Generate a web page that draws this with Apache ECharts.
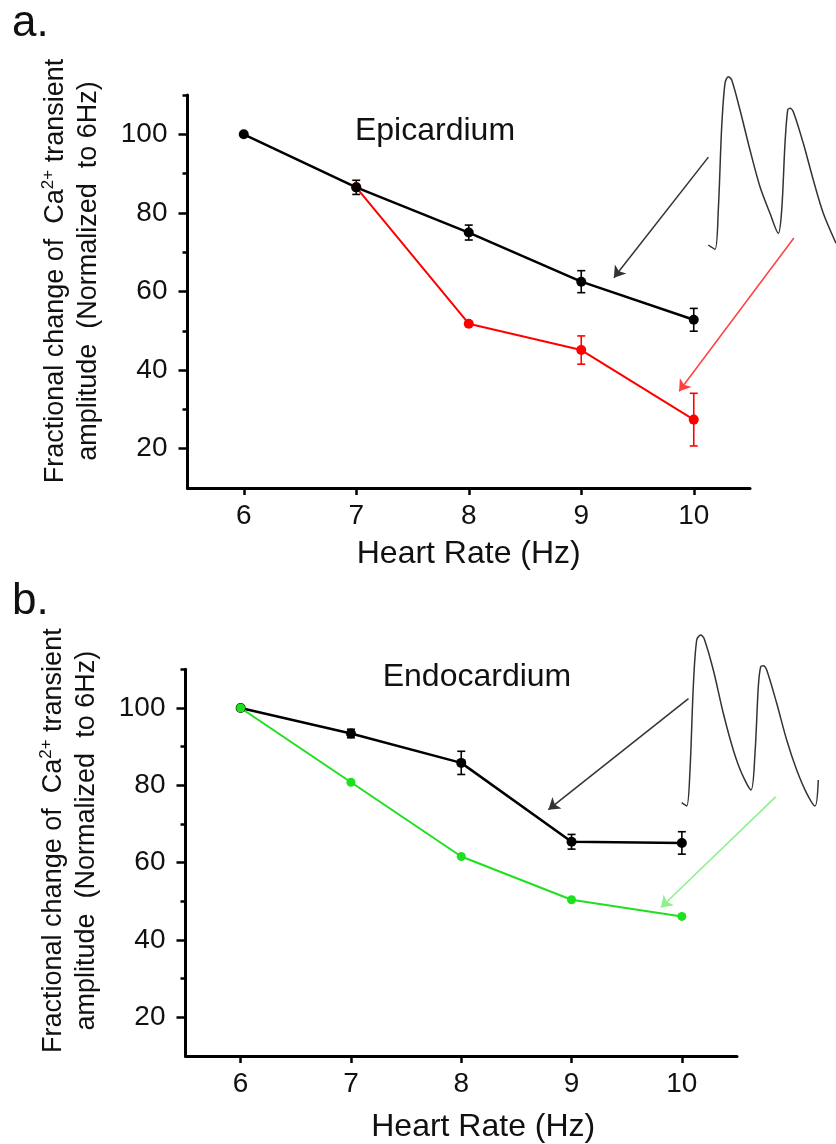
<!DOCTYPE html>
<html><head><meta charset="utf-8">
<script src="https://cdn.jsdelivr.net/npm/echarts@6/dist/echarts.min.js"></script>
<style>html,body{margin:0;padding:0;background:#fff}#c{width:836px;height:1144px}</style>
</head><body><div id="c"></div>
<script>
// ---------- data ----------
const heartRate = [6, 7, 8, 9, 10];
const xTicks = [6, 7, 8, 9, 10];
const yTicks = [20, 40, 60, 80, 100];
const yMinorTicks = [30, 50, 70, 90, 110];

// Panel a: Epicardium
const epiBlack = [100, 86.5, 75.0, 62.5, 52.8];
const epiBlackErr = [0, 1.8, 1.9, 2.8, 2.9];
const epiRed = [null, 86.5, 51.8, 45.1, 27.4];
const epiRedErr = [null, 0, 0, 3.6, 6.7];

// Panel b: Endocardium
const endoBlack = [100, 93.4, 85.8, 65.4, 65.1];
const endoBlackErr = [0, 1.1, 3.0, 1.9, 2.9];
const endoGreen = [100, 80.8, 61.6, 50.4, 46.1];

// Inset Ca2+ transient traces (time, a.u.)
const traceA_t = [0, 6.7, 10, 13.4, 16.7, 20, 23.4, 31.7, 41.7, 51.7, 61.7, 70, 73.4, 76.7, 79.4, 81.7, 85, 95, 105, 115, 127.7];
const traceA_F = [4.3, 0, 39.3, 122.6, 166, 172.6, 169.3, 139.3, 99.3, 62.6, 36, 16, 39.3, 106, 139.3, 141, 137.6, 106, 69.3, 36, 6];
const traceB_t = [0, 5, 8.3, 11.6, 15, 19, 22.3, 31.6, 41.6, 51.6, 60, 69.3, 73.3, 76.6, 79, 81.6, 85, 95, 105, 115, 125, 133.3, 136.6];
const traceB_F = [3.3, 0, 36, 119.3, 166, 171, 167.7, 136, 92.7, 56, 32.7, 16, 52.7, 119.3, 139.3, 140.3, 136, 102.7, 66, 36, 12.7, 0, 26];

// Arrows (in panel data coordinates: [Hz, %])
const arrowA_black = [[10.13, 94.2], [9.29, 63.5]];
const arrowA_red = [[10.89, 73.6], [9.87, 34.6]];
const arrowB_black = [[10.06, 102.4], [8.79, 73.7]];
const arrowB_green = [[10.85, 77.0], [9.81, 48.4]];

// ---------- helpers ----------
const FONT = '"Liberation Sans", Arial, sans-serif';
const TXT = '#111';

function pairs(xs, ys) {
  const out = [];
  xs.forEach((x, i) => { if (ys[i] != null) out.push([x, ys[i]]); });
  return out;
}
function errData(xs, ys, es) {
  const out = [];
  xs.forEach((x, i) => { if (ys[i] != null && es[i] != null && es[i] > 0.5) out.push([x, ys[i], es[i]]); });
  return out;
}
function errSeries(xi, yi, data, color) {
  return {
    type: 'custom', xAxisIndex: xi, yAxisIndex: yi, data: data, z: 4,
    renderItem: function (params, api) {
      const x = api.value(0), y = api.value(1), e = api.value(2);
      const t = api.coord([x, y + e]), b = api.coord([x, y - e]);
      const hw = 4;
      const st = { stroke: color, lineWidth: 1.6 };
      return { type: 'group', children: [
        { type: 'line', shape: { x1: t[0], y1: t[1], x2: b[0], y2: b[1] }, style: st },
        { type: 'line', shape: { x1: t[0] - hw, y1: t[1], x2: t[0] + hw, y2: t[1] }, style: st },
        { type: 'line', shape: { x1: b[0] - hw, y1: b[1], x2: b[0] + hw, y2: b[1] }, style: st }
      ]};
    }
  };
}
function lineSeries(xi, yi, data, color, size, width) {
  return {
    type: 'line', xAxisIndex: xi, yAxisIndex: yi, data: data, z: 5,
    symbol: 'circle', symbolSize: size, showSymbol: true,
    lineStyle: { color: color, width: width }, itemStyle: { color: color }
  };
}
function arrowSeries(xi, yi, coords, color) {
  return {
    type: 'lines', coordinateSystem: 'cartesian2d', xAxisIndex: xi, yAxisIndex: yi,
    clip: false, z: 3, symbol: ['none', 'arrow'], symbolSize: [0, 11],
    lineStyle: { color: color, width: 1.5, opacity: 1, curveness: 0 },
    data: [{ coords: coords }]
  };
}
const yNameText = '{t|Fractional change of  Ca}{s|2+}{t| transient}\n{t|amplitude  (Normalized  to 6Hz)}';
function xAxisCfg(gi, pad, gap) {
  return {
    type: 'value', gridIndex: gi, min: 5.5, max: 10.5,
    name: 'Heart Rate (Hz)', nameLocation: 'middle', nameGap: gap,
    nameTextStyle: { fontFamily: FONT, fontSize: 32, color: TXT, padding: pad },
    axisLine: { show: true, onZero: false, lineStyle: { color: '#000', width: 3 } },
    axisTick: { show: true, length: 7, customValues: xTicks, lineStyle: { color: '#000', width: 2.5 } },
    axisLabel: { fontFamily: FONT, fontSize: 28, color: TXT, margin: 14, customValues: xTicks },
    splitLine: { show: false }
  };
}
function yAxisCfg(gi, pad) {
  return {
    type: 'value', gridIndex: gi, min: 10, max: 110, position: 'left',
    name: yNameText, nameLocation: 'middle', nameGap: 82, nameRotate: 90,
    nameTextStyle: {
      fontFamily: FONT, color: TXT, padding: pad, lineHeight: 33,
      rich: {
        t: { fontFamily: FONT, fontSize: 27, color: TXT, lineHeight: 33 },
        s: { fontFamily: FONT, fontSize: 17, color: TXT, verticalAlign: 'top', lineHeight: 20 }
      }
    },
    axisLine: { show: true, onZero: false, lineStyle: { color: '#000', width: 3 } },
    axisTick: { show: true, length: 9, customValues: yTicks, lineStyle: { color: '#000', width: 2.5 } },
    axisLabel: { fontFamily: FONT, fontSize: 28, color: TXT, margin: 20, customValues: yTicks },
    splitLine: { show: false }
  };
}
function yMinorCfg(gi) {
  return {
    type: 'value', gridIndex: gi, min: 10, max: 110, position: 'left',
    axisLine: { show: false },
    axisTick: { show: true, length: 5, customValues: yMinorTicks, lineStyle: { color: '#000', width: 2.5 } },
    axisLabel: { show: false }, splitLine: { show: false }
  };
}
function insetAxes(gi, tmax, fmax) {
  return [
    { type: 'value', gridIndex: gi, min: 0, max: tmax, show: false },
    { type: 'value', gridIndex: gi, min: 0, max: fmax, show: false }
  ];
}

const insA = insetAxes(2, 127.7, 172.6);
const insB = insetAxes(3, 136.6, 171);

const option = {
  animation: false,
  backgroundColor: '#fff',
  grid: [
    { left: 187.5, top: 95, width: 562.5, height: 393 },
    { left: 185.5, top: 669.3, width: 551.5, height: 387.7 },
    { left: 708.3, top: 76.7, width: 127.7, height: 172.6 },
    { left: 681.7, top: 635, width: 136.6, height: 171 }
  ],
  xAxis: [xAxisCfg(0, [0, 0, 0, 0], 50), xAxisCfg(1, [0, 0, 0, 44], 55), insA[0], insB[0]],
  yAxis: [yAxisCfg(0, [0, 0, 0, 41]), yMinorCfg(0), yAxisCfg(1, [0, 0, 0, 44]), yMinorCfg(1), insA[1], insB[1]],
  graphic: [
    { type: 'text', x: 12, y: 2, style: { text: 'a.', fontFamily: FONT, fontSize: 44, fill: TXT } },
    { type: 'text', x: 12, y: 580, style: { text: 'b.', fontFamily: FONT, fontSize: 44, fill: TXT } },
    { type: 'text', x: 435, y: 131, style: { text: 'Epicardium', fontFamily: FONT, fontSize: 32, fill: TXT, align: 'center', verticalAlign: 'middle' } },
    { type: 'text', x: 477, y: 677, style: { text: 'Endocardium', fontFamily: FONT, fontSize: 32, fill: TXT, align: 'center', verticalAlign: 'middle' } }
  ],
  series: [
    // panel a
    arrowSeries(0, 0, arrowA_black, '#333'),
    arrowSeries(0, 0, arrowA_red, '#ff4040'),
    errSeries(0, 0, errData(heartRate, epiRed, epiRedErr), '#ff0000'),
    lineSeries(0, 0, pairs(heartRate, epiRed), '#ff0000', 10, 2),
    errSeries(0, 0, errData(heartRate, epiBlack, epiBlackErr), '#000'),
    lineSeries(0, 0, pairs(heartRate, epiBlack), '#000', 10, 2.5),
    // panel b
    arrowSeries(1, 2, arrowB_black, '#333'),
    arrowSeries(1, 2, arrowB_green, '#8cf08c'),
    errSeries(1, 2, errData(heartRate, endoBlack, endoBlackErr), '#000'),
    lineSeries(1, 2, pairs(heartRate, endoBlack), '#000', 10, 2.5),
    lineSeries(1, 2, pairs(heartRate, endoGreen), '#1ee01e', 9, 2),
    // insets
    { type: 'line', xAxisIndex: 2, yAxisIndex: 4, data: pairs(traceA_t, traceA_F), showSymbol: false, smooth: 0.3,
      lineStyle: { color: '#333', width: 1.5 }, clip: false },
    { type: 'line', xAxisIndex: 3, yAxisIndex: 5, data: pairs(traceB_t, traceB_F), showSymbol: false, smooth: 0.3,
      lineStyle: { color: '#333', width: 1.5 }, clip: false }
  ]
};
const chart = echarts.init(document.getElementById('c'), null, { renderer: 'canvas' });
chart.setOption(option);
</script></body></html>
